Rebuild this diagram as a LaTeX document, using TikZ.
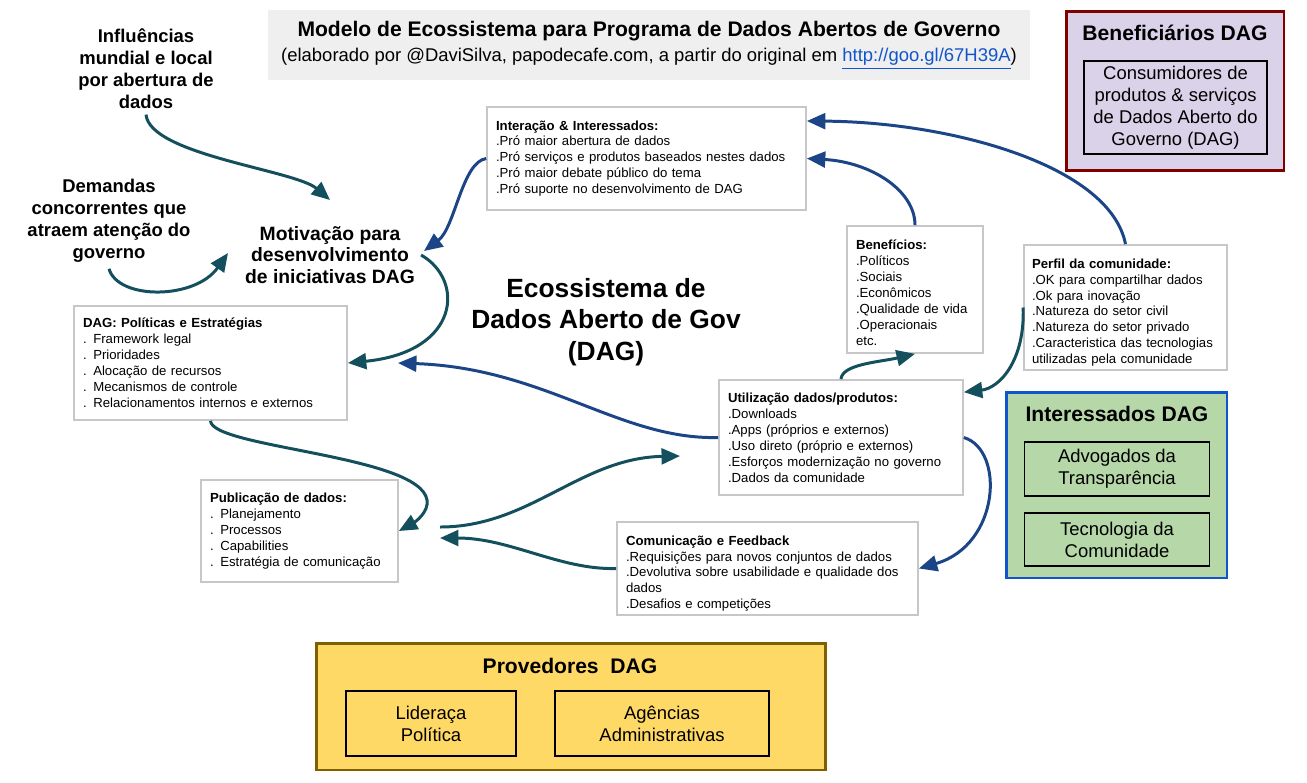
\documentclass[tikz,border=0pt]{standalone}
\usepackage{fontspec}
\setmainfont{Liberation Sans}
\usetikzlibrary{arrows.meta}

\definecolor{tealdag}{HTML}{134F5C}
\definecolor{azuldag}{HTML}{1C4587}
\definecolor{titulocinza}{HTML}{EFEFEF}
\definecolor{linkazul}{HTML}{1155CC}
\definecolor{lilas}{HTML}{D9D2E9}
\definecolor{vermelhoesc}{HTML}{800000}
\definecolor{verdeclaro}{HTML}{B6D7A8}
\definecolor{azulborda}{HTML}{1155CC}
\definecolor{amarelo}{HTML}{FFD966}
\definecolor{amareloborda}{HTML}{7F6000}

\newcommand{\topo}[1]{\rule{0pt}{#1}}

\tikzset{
  setateal/.style={draw=tealdag, line width=1.7pt, -{Triangle[length=10.5pt,width=9pt]}},
  setaazul/.style={draw=azuldag, line width=1.7pt, -{Triangle[length=10.5pt,width=9pt]}},
  caixa/.style={draw=black!22, line width=1pt, fill=white, align=left, inner xsep=0.18cm, inner ysep=0pt, font=\fontsize{7.5}{9.08}\selectfont},
  rotulo/.style={align=center, font=\fontsize{10.5}{12.5}\selectfont\bfseries},
  grupo/.style={line width=1.7pt},
  titgrupo/.style={font=\fontsize{12}{14}\selectfont\bfseries},
  membro/.style={draw=black, line width=0.9pt, align=center, inner sep=0pt, font=\fontsize{10.5}{12.5}\selectfont}
}

\begin{document}
\begin{tikzpicture}[x=0.02cm, y=-0.02cm]
\useasboundingbox (0,0) rectangle (1307,782);

\node[fill=titulocinza, minimum width=15.24cm, minimum height=1.4cm, align=center, font=\fontsize{10.5}{14.75}\selectfont] (titulo) at (649,45) {{\fontsize{12}{14.75}\selectfont\bfseries Modelo de Ecossistema para Programa de Dados Abertos de Governo}\\(elaborado por @DaviSilva, papodecafe.com, a partir do original em \textcolor{linkazul}{\underline{http://goo.gl/67H39A}})};

% grupos
\node[grupo, draw=vermelhoesc, fill=lilas, minimum width=4.36cm, minimum height=3.2cm] (benef) at (1175,91) {};
\node[titgrupo] (benefTit) at (1175,33) {Beneficiários DAG};
\node[membro, fill=lilas, minimum width=3.66cm, minimum height=1.86cm] (consum) at (1175.5,107.5) {Consumidores de\\produtos \& serviços\\de Dados Aberto do\\Governo (DAG)};

\node[grupo, draw=azulborda, fill=verdeclaro, minimum width=4.42cm, minimum height=3.72cm] (interess) at (1116.5,485) {};
\node[titgrupo] (interessTit) at (1117,414) {Interessados DAG};
\node[membro, fill=verdeclaro, minimum width=3.7cm, minimum height=1.07cm] (advog) at (1117,469) {Advogados da\\Transparência};
\node[membro, fill=verdeclaro, minimum width=3.7cm, minimum height=1.07cm] (tecno) at (1117,539.5) {Tecnologia da\\Comunidade};

\node[grupo, draw=amareloborda, fill=amarelo, minimum width=10.2cm, minimum height=2.54cm] (provedores) at (571,706.5) {};
\node[titgrupo] (provTit) at (570,666) {Provedores\ \ DAG};
\node[membro, fill=amarelo, minimum width=3.4cm, minimum height=1.3cm] (lider) at (431,723.5) {Lideraça\\Política};
\node[membro, fill=amarelo, minimum width=4.28cm, minimum height=1.3cm] (agencias) at (662,723.5) {Agências\\Administrativas};

% caixas
\node[caixa, text width=6.02cm, minimum height=2.06cm] (interacao) at (646.5,158.5) {\textbf{Interação \& Interessados:}\\.Pró maior abertura de dados\\.Pró serviços e produtos baseados nestes dados\\.Pró maior debate público do tema\\.Pró suporte no desenvolvimento de DAG};
\node[caixa, text width=2.36cm, minimum height=2.54cm] (beneficios) at (915,289.5) {\topo{8.9pt}\textbf{Benefícios:}\\.Políticos\\.Sociais\\.Econômicos\\.Qualidade de vida\\.Operacionais\\etc.};
\node[caixa, inner xsep=0.16cm, text width=3.74cm, minimum height=2.5cm] (perfil) at (1125.5,307.5) {\topo{11.2pt}\textbf{Perfil da comunidade:}\\.OK para compartilhar dados\\.Ok para inovação\\.Natureza do setor civil\\.Natureza do setor privado\\.Caracteristica das tecnologias\\utilizadas pela comunidade};
\node[caixa, text width=5.1cm, minimum height=2.28cm] (politicas) at (210.5,363) {\textbf{DAG: Políticas e Estratégias}\\. Framework legal\\. Prioridades\\. Alocação de recursos\\. Mecanismos de controle\\. Relacionamentos internos e externos};
\node[caixa, text width=4.52cm, minimum height=2.3cm] (utilizacao) at (841,437.5) {\textbf{Utilização dados/produtos:}\\.Downloads\\.Apps (próprios e externos)\\.Uso direto (próprio e externos)\\.Esforços modernização no governo\\.Dados da comunidade};
\node[caixa, text width=3.58cm, minimum height=2.04cm] (publicacao) at (299.5,531) {\textbf{Publicação de dados:}\\. Planejamento\\. Processos\\. Capabilities\\. Estratégia de comunicação};
\node[caixa, text width=5.66cm, minimum height=1.86cm] (comunicacao) at (767.5,568.5) {\topo{11.2pt}\textbf{Comunicação e Feedback}\\.Requisições para novos conjuntos de dados\\.Devolutiva sobre usabilidade e qualidade dos\\dados\\.Desafios e competições};

% rotulos
\node[rotulo] (influ) at (146,68.5) {Influências\\mundial e local\\por abertura de\\dados};
\node[rotulo] (demandas) at (109,221) {Demandas\\concorrentes que\\atraem atenção do\\governo};
\node[rotulo, font=\fontsize{11}{12.2}\selectfont\bfseries] (motiv) at (330,255) {Motivação para\\desenvolvimento\\de iniciativas DAG};
\node[align=center, font=\fontsize{15}{18}\selectfont\bfseries] (eco) at (606,322) {Ecossistema de\\Dados Aberto de Gov\\(DAG)};

\coordinate (pInflu) at (330,200);
\coordinate (pDemanda) at (228,253);
\coordinate (pMotivB) at (424,251);
\coordinate (pPolitB) at (398,363);
\coordinate (pPubS) at (440,527);
\coordinate (pPubE) at (440,538);
\coordinate (pUtilE) at (680,456);

\draw[setateal] (influ.south) .. controls (150,155) and (295,170) .. (pInflu);
\draw[setateal] (demandas.south) .. controls (118,300) and (195,300) .. (pDemanda);
\draw[setateal] (motiv.east) .. controls (465,280) and (460,352) .. (politicas.east);
\draw[setateal] (politicas.south) .. controls (212,448) and (420,455) .. (427,500) .. controls (429,512) and (415,522) .. (publicacao.east);
\draw[setateal] (pPubS) .. controls (530,527) and (580,458) .. (pUtilE);
\draw[setateal] (comunicacao.west) .. controls (560,570) and (510,538) .. (pPubE);
\draw[setateal] (utilizacao.north) .. controls (842,364) and (880,362) .. (beneficios.south);
\draw[setateal] (perfil.west) .. controls (1025,360) and (1000,388) .. ([yshift=-0.26cm]utilizacao.north east);

\draw[setaazul] (interacao.west) .. controls (462,162) and (455,228) .. (pMotivB);
\draw[setaazul] (beneficios.north) .. controls (915,190) and (870,162) .. (interacao.east);
\draw[setaazul] (perfil.north) .. controls (1110,165) and (950,122) .. ([yshift=0.75cm]interacao.east);
\draw[setaazul] (utilizacao.west) .. controls (620,440) and (545,368) .. (pPolitB);
\draw[setaazul] (utilizacao.east) .. controls (1005,450) and (1000,545) .. (comunicacao.east);
\end{tikzpicture}
\end{document}
